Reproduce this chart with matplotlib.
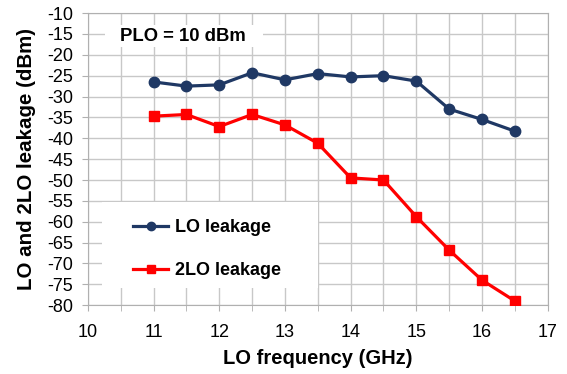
import matplotlib
matplotlib.use("Agg")
import matplotlib.pyplot as plt
from matplotlib.ticker import MultipleLocator
from matplotlib.patches import Rectangle

plt.rcParams['font.family'] = ['Liberation Sans', 'DejaVu Sans']
plt.rcParams['axes.unicode_minus'] = False

freq = [11, 11.5, 12, 12.5, 13, 13.5, 14, 14.5, 15, 15.5, 16, 16.5]
lo_leak = [-26.5, -27.5, -27.2, -24.3, -26.0, -24.5, -25.3, -25.0, -26.3, -33.0, -35.5, -38.3]
lo2_leak = [-34.7, -34.3, -37.2, -34.3, -36.8, -41.2, -49.5, -50.0, -58.8, -66.8, -74.0, -79.0]

fig = plt.figure(figsize=(5.67, 3.74), dpi=100)
ax = fig.add_axes([0.155, 0.184, 0.811, 0.781])

ax.plot(freq, lo_leak, color='#1f3864', lw=2.3, marker='o', ms=7.5, label='LO leakage', zorder=3)
ax.plot(freq, lo2_leak, color='#ff0000', lw=2.3, marker='s', ms=7.5, label='2LO leakage', zorder=3)

ax.set_xlim(10, 17)
ax.set_ylim(-80, -10)
ax.xaxis.set_major_locator(MultipleLocator(1))
ax.xaxis.set_minor_locator(MultipleLocator(0.5))
ax.yaxis.set_major_locator(MultipleLocator(5))
ax.grid(True, which='both', color='#c8c8c8', lw=1)
ax.set_axisbelow(True)
for s in ax.spines.values():
    s.set_color('#b0b0b0')
ax.tick_params(which='both', direction='out', length=4.5, color='#b0b0b0', labelsize=13)
ax.tick_params(axis='x', which='both', pad=9)
ax.tick_params(axis='y', pad=6)

ax.set_xlabel('LO frequency (GHz)', fontsize=14.5, fontweight='bold', labelpad=6)
ax.set_ylabel('LO and 2LO leakage (dBm)', fontsize=14.8, fontweight='bold', labelpad=8)

# white background boxes for annotation and legend
ax.add_patch(Rectangle((0.037, 0.884), 0.343, 0.075, transform=ax.transAxes,
                       facecolor='white', edgecolor='none', zorder=2))
ax.add_patch(Rectangle((0.03, 0.058), 0.47, 0.295, transform=ax.transAxes,
                       facecolor='white', edgecolor='none', zorder=2))

ax.text(0.07, 0.921, 'PLO = 10 dBm', transform=ax.transAxes, fontsize=13.3,
        fontweight='bold', va='center', ha='left', zorder=4)

leg = ax.legend(loc='upper left', bbox_to_anchor=(0.098, 0.295), frameon=False,
                prop={'weight': 'bold', 'size': 13}, handlelength=1.95, labelspacing=1.45,
                borderpad=0, handletextpad=0.4, borderaxespad=0)
for h in leg.legend_handles:
    h.set_markersize(6)

fig.savefig('out.png', dpi=100)
